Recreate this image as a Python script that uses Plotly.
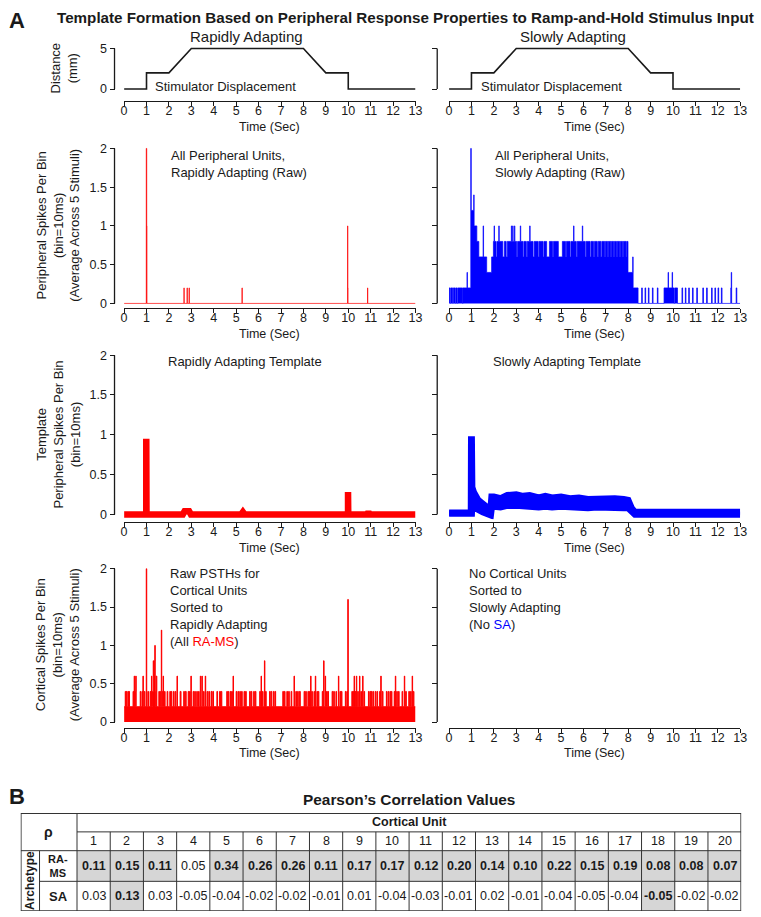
import plotly.graph_objects as go

W, H = 761, 917
FONT = "Liberation Sans, Arial, Helvetica, sans-serif"
INK = "#1a1a1a"
RED = "#ff0000"
BLUE = "#0000ff"
SHADE = "#d6d6d6"

# ------------------------------------------------------------------ data
TICKS_SEC = list(range(0, 14))

# stimulator displacement (mm) vs time (s)
STIM_T = [0, 1, 1, 2, 3, 8, 9, 10, 10, 13]
STIM_D = [0, 0, 2, 2, 5, 5, 2, 2, 0, 0]

# raw peripheral PSTHs as step functions: (bin start time s, spikes per bin), held until next entry
RA_RAW = [(0, 0), (0.99, 2.0), (1.01, 1.0), (1.02, 0), (2.67, 0.2), (2.68, 0), (2.81, 0.2), (2.82, 0),
          (2.90, 0.2), (2.91, 0), (5.26, 0.2), (5.27, 0), (9.97, 1.0), (9.98, 0.2), (9.99, 0),
          (10.86, 0.2), (10.87, 0)]

SA_RAW = [(0.00, 0.2), (0.05, 0), (0.08, 0.2), (0.16, 0), (0.19, 0.2), (0.27, 0), (0.30, 0.2), (0.36, 0),
          (0.39, 0.2), (0.60, 0), (0.62, 0.2), (0.80, 0.4), (0.82, 0.2), (0.97, 2.0), (0.99, 1.2),
          (1.10, 1.4), (1.12, 1.0), (1.24, 0.8), (1.33, 0.6), (1.52, 1.0), (1.54, 0.6), (1.68, 0.4),
          (1.90, 0.6), (1.98, 0.8), (2.01, 1.0), (2.03, 0.8), (2.10, 0.6), (2.14, 0.8), (2.22, 1.0),
          (2.24, 0.8), (2.40, 0.6), (2.47, 0.8), (2.55, 0.6), (2.60, 0.8), (2.78, 1.0), (2.80, 0.8),
          (2.84, 1.0), (2.86, 0.8), (2.92, 1.0), (2.94, 0.8), (3.02, 0.6), (3.06, 0.8), (3.18, 1.0),
          (3.20, 0.8), (3.30, 0.6), (3.34, 0.8), (3.45, 0.6), (3.49, 0.8), (3.60, 1.0), (3.62, 0.8),
          (3.75, 0.6), (3.80, 0.8), (3.98, 0.6), (4.02, 0.8), (4.20, 0.6), (4.24, 0.8), (4.36, 0.6),
          (4.48, 0.8), (4.62, 0.6), (4.66, 0.8), (4.88, 0.6), (5.06, 0.8), (5.20, 0.6), (5.24, 0.8),
          (5.40, 0.6), (5.44, 0.8), (5.56, 1.0), (5.58, 0.8), (5.68, 0.6), (5.72, 0.8), (5.95, 1.0),
          (5.97, 0.8), (6.08, 0.6), (6.12, 0.8), (6.30, 0.6), (6.34, 0.8), (6.45, 0.6), (6.49, 0.8),
          (6.62, 0.6), (6.66, 0.8), (6.78, 0.6), (6.82, 0.8), (6.95, 0.6), (6.98, 0.8), (7.08, 0.6),
          (7.11, 0.8), (7.22, 0.6), (7.25, 0.8), (7.35, 0.6), (7.38, 0.8), (7.48, 0.6), (7.51, 0.8),
          (7.62, 0.6), (7.65, 0.8), (7.75, 0.6), (7.78, 0.8), (7.90, 0.6), (7.93, 0.8), (7.99, 0.4),
          (8.20, 0.6), (8.22, 0.2), (8.44, 0), (8.60, 0.2), (8.63, 0), (8.75, 0.2), (8.78, 0),
          (8.90, 0.2), (8.93, 0), (9.08, 0.2), (9.11, 0), (9.30, 0.2), (9.33, 0), (9.60, 0.2),
          (9.78, 0.4), (9.80, 0.2), (9.96, 0.4), (9.98, 0.2), (10.05, 0), (10.08, 0.2), (10.20, 0),
          (10.40, 0.2), (10.43, 0), (10.55, 0.2), (10.58, 0), (10.70, 0.2), (10.73, 0), (10.87, 0.2),
          (10.90, 0), (11.06, 0.2), (11.09, 0), (11.33, 0.2), (11.36, 0), (11.50, 0.2), (11.53, 0),
          (11.72, 0.2), (11.75, 0), (11.87, 0.2), (11.90, 0), (12.01, 0.2), (12.04, 0), (12.16, 0.2),
          (12.19, 0), (12.58, 0.2), (12.60, 0.4), (12.62, 0), (12.82, 0.2), (12.85, 0)]

# templates
RA_TPL_T = [0, 0.99, 0.99, 1.00, 1.00, 2.62, 2.70, 2.90, 2.98, 5.22, 5.30, 5.38,
            9.99, 9.99, 10.00, 10.00, 10.84, 10.90, 10.96, 13]
RA_TPL_V = [0, 0, 0.95, 0.95, 0, 0, 0.04, 0.04, 0, 0, 0.03, 0,
            0, 0.28, 0.28, 0, 0, 0.03, 0, 0]

SA_TPL_T = [0, 0.90, 0.98, 0.99, 1.01, 1.03, 1.10, 1.30, 1.50, 1.70, 1.86, 1.90, 2.00, 2.30,
            2.60, 3.00, 3.30, 3.60, 4.00, 4.30, 4.60, 5.00, 5.40, 5.80, 6.20, 6.60, 7.00, 7.40,
            7.80, 8.00, 8.15, 8.30, 9.00, 9.60, 10.00, 10.20, 11.0, 12.0, 13.0]
SA_TPL_HI = [0.02, 0.02, 0.02, 0.94, 0.94, 0.34, 0.28, 0.18, 0.13, 0.09, 0.08, 0.22, 0.22, 0.20,
             0.24, 0.25, 0.23, 0.24, 0.21, 0.23, 0.21, 0.22, 0.20, 0.21, 0.19, 0.20, 0.19, 0.20,
             0.19, 0.18, 0.08, 0.03, 0.03, 0.03, 0.05, 0.03, 0.03, 0.03, 0.03]
SA_TPL_LO = [0.01, 0.01, 0.01, 0.01, 0.01, 0.14, 0.11, 0.06, 0.03, 0.00, -0.01, 0.08, 0.10, 0.09,
             0.11, 0.11, 0.10, 0.11, 0.09, 0.10, 0.09, 0.10, 0.09, 0.09, 0.08, 0.09, 0.08, 0.09,
             0.08, 0.08, 0.03, 0.00, 0.00, 0.00, 0.01, 0.00, 0.00, 0.00, 0.00]

# raw PSTH of cortical units sorted to RA (step function)
CORT_RA = [(0, 0.2), (0.05, 0.4), (0.07, 0.2), (0.10, 0.4), (0.13, 0.2), (0.17, 0.4), (0.20, 0.2),
           (0.22, 0.4), (0.24, 0.2), (0.40, 0.4), (0.43, 0.2), (0.45, 0.6), (0.47, 0.2), (0.50, 0.4),
           (0.52, 0.6), (0.54, 0.2), (0.72, 0.4), (0.75, 0.2), (0.80, 0.4), (0.84, 0.6), (0.86, 0.2),
           (0.90, 0.4), (0.93, 0.2), (0.99, 2.0), (1.01, 0.2), (1.06, 0.4), (1.09, 0.2), (1.16, 0.4),
           (1.19, 0.2), (1.22, 0.6), (1.24, 0.2), (1.27, 0.4), (1.30, 0.8), (1.32, 0.6), (1.35, 0.8),
           (1.37, 1.0), (1.39, 0.4), (1.41, 0.2), (1.43, 0.6), (1.46, 0.2), (1.55, 0.4), (1.58, 0.2),
           (1.62, 0.4), (1.66, 1.2), (1.68, 0.2), (1.71, 0.4), (1.74, 0.6), (1.76, 0.2), (1.80, 0.4),
           (1.83, 0.2), (1.92, 0.4), (1.95, 0.2), (2.04, 0.4), (2.07, 0.2), (2.10, 0.4), (2.13, 0.2),
           (2.20, 0.4), (2.23, 0.2), (2.28, 0.4), (2.31, 0.2), (2.36, 0.6), (2.38, 0.2), (2.50, 0.4),
           (2.54, 0.2), (2.66, 0.4), (2.69, 0.2), (2.73, 0.4), (2.77, 0.2), (2.86, 0.4), (2.89, 0.2),
           (2.92, 0.4), (2.95, 0.2), (2.98, 0.6), (3.00, 0.2), (3.08, 0.4), (3.11, 0.2), (3.15, 0.4),
           (3.18, 0.2), (3.24, 0.4), (3.27, 0.2), (3.32, 0.4), (3.35, 0.2), (3.40, 0.6), (3.42, 0.2),
           (3.47, 0.6), (3.49, 0.2), (3.54, 0.4), (3.57, 0.2), (3.62, 0.6), (3.64, 0.2), (3.70, 0.4),
           (3.73, 0.2), (3.78, 0.4), (3.81, 0.2), (3.88, 0.4), (3.92, 0.2), (3.96, 0.4), (3.99, 0.2),
           (4.14, 0.4), (4.17, 0.2), (4.26, 0.4), (4.30, 0.2), (4.33, 0.4), (4.36, 0.2), (4.58, 0.4),
           (4.61, 0.2), (4.65, 0.4), (4.68, 0.2), (4.74, 0.4), (4.77, 0.2), (4.80, 0.4), (4.83, 0.2),
           (4.86, 0.6), (4.88, 0.2), (5.00, 0.4), (5.03, 0.2), (5.08, 0.4), (5.11, 0.2), (5.16, 0.4),
           (5.19, 0.2), (5.24, 0.4), (5.27, 0.2), (5.35, 0.4), (5.38, 0.2), (5.42, 0.4), (5.45, 0.2),
           (5.60, 0.4), (5.63, 0.2), (5.67, 0.4), (5.70, 0.2), (5.78, 0.4), (5.81, 0.2), (5.85, 0.4),
           (5.88, 0.2), (6.05, 0.4), (6.08, 0.2), (6.11, 0.6), (6.13, 0.2), (6.17, 0.4), (6.20, 0.2),
           (6.26, 0.8), (6.28, 0.2), (6.31, 0.4), (6.34, 0.2), (6.49, 0.4), (6.52, 0.2), (6.56, 0.4),
           (6.59, 0.2), (6.66, 0.4), (6.69, 0.2), (6.73, 0.4), (6.76, 0.2), (7.08, 0.4), (7.11, 0.2),
           (7.15, 0.4), (7.18, 0.2), (7.26, 0.4), (7.29, 0.2), (7.34, 0.4), (7.37, 0.2), (7.45, 0.4),
           (7.48, 0.2), (7.58, 0.6), (7.60, 0.2), (7.66, 0.4), (7.69, 0.2), (7.74, 0.4), (7.77, 0.2),
           (7.82, 0.4), (7.86, 0.2), (8.03, 0.4), (8.06, 0.2), (8.10, 0.4), (8.13, 0.2), (8.20, 0.4),
           (8.23, 0.2), (8.27, 0.4), (8.30, 0.2), (8.32, 0.6), (8.34, 0.2), (8.37, 0.4), (8.40, 0.2),
           (8.47, 0.4), (8.50, 0.2), (8.53, 0.6), (8.55, 0.2), (8.60, 0.4), (8.63, 0.2), (8.66, 0.4),
           (8.69, 0.2), (8.84, 0.4), (8.87, 0.2), (8.90, 0.8), (8.92, 0.2), (8.97, 0.6), (8.99, 0.2),
           (9.03, 0.4), (9.06, 0.2), (9.09, 0.4), (9.12, 0.2), (9.28, 0.4), (9.31, 0.2), (9.35, 0.4),
           (9.38, 0.2), (9.45, 0.4), (9.48, 0.2), (9.56, 0.6), (9.58, 0.2), (9.63, 0.4), (9.66, 0.2),
           (9.69, 0.4), (9.72, 0.2), (9.87, 0.4), (9.90, 0.2), (9.94, 0.4), (9.97, 0.2), (9.98, 1.6),
           (10.00, 0.2), (10.16, 0.4), (10.19, 0.2), (10.22, 0.4), (10.25, 0.2), (10.26, 0.6),
           (10.28, 0.2), (10.31, 0.4), (10.34, 0.2), (10.36, 0.6), (10.38, 0.2), (10.42, 0.4),
           (10.45, 0.2), (10.50, 0.6), (10.52, 0.2), (10.56, 0.4), (10.59, 0.2), (10.64, 0.6),
           (10.66, 0.2), (10.70, 0.4), (10.73, 0.2), (10.90, 0.4), (10.93, 0.2), (10.97, 0.4),
           (11.00, 0.2), (11.03, 0.4), (11.06, 0.2), (11.10, 0.4), (11.13, 0.2), (11.20, 0.4),
           (11.23, 0.2), (11.28, 0.4), (11.31, 0.2), (11.40, 0.4), (11.43, 0.2), (11.45, 0.6),
           (11.47, 0.2), (11.52, 0.4), (11.55, 0.2), (11.70, 0.4), (11.73, 0.2), (11.78, 0.4),
           (11.81, 0.2), (11.86, 0.4), (11.89, 0.2), (11.92, 0.4), (11.95, 0.2), (12.05, 0.4),
           (12.08, 0.2), (12.10, 0.6), (12.12, 0.2), (12.16, 0.4), (12.19, 0.2), (12.24, 0.4),
           (12.27, 0.2), (12.40, 0.4), (12.43, 0.2), (12.50, 0.6), (12.52, 0.2), (12.56, 0.4),
           (12.59, 0.2), (12.70, 0.4), (12.73, 0.2), (12.78, 0.4), (12.81, 0.2), (12.85, 0.6),
           (12.87, 0.2), (12.90, 0.4), (12.93, 0.2)]

# Pearson's correlation table
UNITS = list(range(1, 21))
RHO_RA_MS = [0.11, 0.15, 0.11, 0.05, 0.34, 0.26, 0.26, 0.11, 0.17, 0.17,
             0.12, 0.20, 0.14, 0.10, 0.22, 0.15, 0.19, 0.08, 0.08, 0.07]
RHO_SA = [0.03, 0.13, 0.03, -0.05, -0.04, -0.02, -0.02, -0.01, 0.01, -0.04,
          -0.03, -0.01, 0.02, -0.01, -0.04, -0.05, -0.04, -0.05, -0.02, -0.02]
SIG_RA_MS = [1, 1, 1, 0, 1, 1, 1, 1, 1, 1, 1, 1, 1, 1, 1, 1, 1, 1, 1, 1]
SIG_SA = [0, 1, 0, 0, 0, 0, 0, 0, 0, 0, 0, 0, 0, 0, 0, 0, 0, 1, 0, 0]


# ------------------------------------------------------------------ helpers
def X(px):
    return px / W


def Y(py):
    return 1 - py / H


def step_xy(pairs, tend=13.0):
    ts = [p[0] for p in pairs] + [tend]
    vs = [p[1] for p in pairs] + [pairs[-1][1]]
    return ts, vs


fig = go.Figure()
shapes, annotations = [], []
layout = dict(width=W, height=H, margin=dict(l=0, r=0, t=0, b=0),
              paper_bgcolor="white", plot_bgcolor="rgba(0,0,0,0)", showlegend=False,
              font=dict(family=FONT, color=INK, size=13))

COL_GEOM = {1: dict(x0=122.7, x1=418.0, yline=113.0),
            2: dict(x0=452.0, x1=747.0, yline=440.0)}
ROW_GEOM = {
    1: dict(p0=85.0, ptop=44.0, vtop=5, rng=(-0.25, 5.25), xline=97.0, ticks=[0, 5]),
    2: dict(p0=301.7, ptop=145.0, vtop=2, rng=(-0.03, 2.02), xline=306.5, ticks=[0, 0.5, 1, 1.5, 2]),
    3: dict(p0=515.0, ptop=354.0, vtop=2, rng=(-0.06, 2.02), xline=523.0, ticks=[0, 0.5, 1, 1.5, 2]),
    4: dict(p0=725.0, ptop=570.0, vtop=2, rng=(-0.03, 2.02), xline=730.5, ticks=[0, 0.5, 1, 1.5, 2]),
}
TICKFONT = dict(family=FONT, size=12.5, color=INK)


def axes_ids(p):
    s = "" if p == 1 else str(p)
    return "x" + s, "y" + s, "xaxis" + s, "yaxis" + s


for r in range(1, 5):
    for c in (1, 2):
        p = (r - 1) * 2 + c
        xid, yid, xkey, ykey = axes_ids(p)
        cg, rg = COL_GEOM[c], ROW_GEOM[r]
        k = (rg["p0"] - rg["ptop"]) / rg["vtop"]
        bottom = rg["p0"] - rg["rng"][0] * k
        top = rg["ptop"] - (rg["rng"][1] - rg["vtop"]) * k
        layout[xkey] = dict(domain=[X(cg["x0"]), X(cg["x1"])], range=[0, 13], anchor="free",
                            position=Y(rg["xline"]), showline=True, linecolor=INK, linewidth=1.3,
                            ticks="outside", ticklen=4, tickwidth=1.3, tickcolor=INK,
                            ticklabelstandoff=-6,
                            tickvals=TICKS_SEC, tickfont=TICKFONT, showgrid=False, zeroline=False)
        layout[ykey] = dict(domain=[Y(bottom), Y(top)], range=list(rg["rng"]), anchor="free",
                            position=X(cg["yline"]), showline=False, ticks="outside", ticklen=5,
                            tickwidth=1.3, tickcolor=INK, tickvals=rg["ticks"],
                            showticklabels=(c == 1), tickfont=TICKFONT, showgrid=False,
                            zeroline=False)
        shapes.append(dict(type="line", xref="paper", yref=yid, x0=X(cg["yline"]),
                           x1=X(cg["yline"]), y0=0, y1=rg["vtop"],
                           line=dict(color=INK, width=1.3)))
        annotations.append(dict(text="Time (Sec)", xref="paper", yref="paper",
                                x=X((cg["x0"] + cg["x1"]) / 2), y=Y(rg["xline"] + 26),
                                xanchor="center", yanchor="middle", showarrow=False,
                                font=dict(family=FONT, size=12.5, color=INK)))
        # empty trace so every subplot exists
        fig.add_trace(go.Scatter(x=[], y=[], xaxis=xid, yaxis=yid, hoverinfo="skip"))

        if r == 1:
            fig.add_trace(go.Scatter(x=STIM_T, y=STIM_D, mode="lines", xaxis=xid, yaxis=yid,
                                     line=dict(color=INK, width=1.6)))
        elif r == 2:
            data, col = (RA_RAW, RED) if c == 1 else (SA_RAW, BLUE)
            tx, vy = step_xy(data)
            fig.add_trace(go.Scatter(x=tx, y=vy, mode="lines", line_shape="hv", fill="tozeroy",
                                     fillcolor=col, xaxis=xid, yaxis=yid,
                                     line=dict(color=col, width=0.7)))
        elif r == 3:
            if c == 1:
                fig.add_trace(go.Scatter(x=RA_TPL_T, y=RA_TPL_V, mode="lines", xaxis=xid,
                                         yaxis=yid, line=dict(color=RED, width=6.5)))
            else:
                fig.add_trace(go.Scatter(x=SA_TPL_T, y=SA_TPL_LO, mode="lines", xaxis=xid,
                                         yaxis=yid, line=dict(color=BLUE, width=6.5)))
                fig.add_trace(go.Scatter(x=SA_TPL_T, y=SA_TPL_HI, mode="lines", xaxis=xid,
                                         yaxis=yid, fill="tonexty", fillcolor=BLUE,
                                         line=dict(color=BLUE, width=6.5)))
        elif r == 4 and c == 1:
            tx, vy = step_xy(CORT_RA)
            fig.add_trace(go.Scatter(x=tx, y=vy, mode="lines", line_shape="hv", fill="tozeroy",
                                     fillcolor=RED, xaxis=xid, yaxis=yid,
                                     line=dict(color=RED, width=1.0)))


def note(text, x, y, size=13, xa="center", ya="middle", bold=False, angle=0, align="center",
         xref="paper", yref="paper"):
    if bold:
        text = "<b>" + text + "</b>"
    if xref == "paper":
        x = X(x)
    if yref == "paper":
        y = Y(y)
    annotations.append(dict(text=text, x=x, y=y, xref=xref, yref=yref, xanchor=xa, yanchor=ya,
                            showarrow=False, textangle=angle, align=align,
                            font=dict(family=FONT, size=size, color=INK)))


# ------------------------------------------------------------------ panel texts
note("A", 4, 16, size=22, xa="left", bold=True)
note("Template Formation Based on Peripheral Response Properties to Ramp-and-Hold Stimulus Input",
     408, 12.5, size=15.2, bold=True)
note("Rapidly Adapting", 247, 32, size=15)
note("Slowly Adapting", 578, 32, size=15)
note("Stimulator Displacement", 152, 82, size=13, xa="left")
note("Stimulator Displacement", 482, 82, size=13, xa="left")
note("Distance<br>(mm)", 62, 64, size=13, angle=-90)
note("Peripheral Spikes Per Bin<br>(bin=10ms)<br>(Average Across 5 Stimuli)", 56, 223, angle=-90)
note("Template<br>Peripheral Spikes Per Bin<br>(bin=10ms)", 56, 434, angle=-90)
note("Cortical Spikes Per Bin<br>(bin=10ms)<br>(Average Across 5 Stimuli)", 56, 647, angle=-90)
note("All Peripheral Units,<br>Rapidly Adapting (Raw)", 168, 143, xa="left", ya="top", align="left")
note("All Peripheral Units,<br>Slowly Adapting (Raw)", 497, 143, xa="left", ya="top", align="left")
note("Rapidly Adapting Template", 245, 360)
note("Slowly Adapting Template", 572, 360)
note("Raw PSTHs for<br>Cortical Units<br>Sorted to<br>Rapidly Adapting<br>(All <span style='color:%s'>RA-MS</span>)" % RED,
     167, 565, xa="left", ya="top", align="left")
note("No Cortical Units<br>Sorted to<br>Slowly Adapting<br>(No <span style='color:%s'>SA</span>)" % BLUE,
     470, 565, xa="left", ya="top", align="left")

# ------------------------------------------------------------------ table (panel B)
note("B", 4, 800, size=22, xa="left", bold=True)
note("Pearson’s Correlation Values", 411, 803, size=15.4, bold=True)

TX0, TX_ARCH, TX_LAB = -1.694, -1.129, 0.0
ROW_EDGES = [0, 19, 38, 69, 99]
layout["xaxis9"] = dict(domain=[X(18), X(748)], range=[TX0, 20], visible=False, anchor="y9")
layout["yaxis9"] = dict(domain=[Y(817 + ROW_EDGES[-1]), Y(817)], range=[ROW_EDGES[-1], 0],
                        visible=False, anchor="x9")
fig.add_trace(go.Scatter(x=[], y=[], xaxis="x9", yaxis="y9", hoverinfo="skip"))

for i, (sr, ss) in enumerate(zip(SIG_RA_MS, SIG_SA)):
    for sig, (ya0, ya1) in ((sr, (ROW_EDGES[2], ROW_EDGES[3])), (ss, (ROW_EDGES[3], ROW_EDGES[4]))):
        if sig:
            shapes.append(dict(type="rect", xref="x9", yref="y9", x0=i, x1=i + 1, y0=ya0, y1=ya1,
                               fillcolor=SHADE, line=dict(width=0)))


def tline(x0, y0, x1, y1, w=1.0):
    shapes.append(dict(type="line", xref="x9", yref="y9", x0=x0, y0=y0, x1=x1, y1=y1,
                       line=dict(color="#333333", width=w)))


tline(TX_LAB, ROW_EDGES[1], 20, ROW_EDGES[1])
tline(TX0, ROW_EDGES[2], 20, ROW_EDGES[2])
tline(TX_ARCH, ROW_EDGES[3], 20, ROW_EDGES[3])
tline(TX_ARCH, ROW_EDGES[2], TX_ARCH, ROW_EDGES[4])
tline(TX_LAB, ROW_EDGES[0], TX_LAB, ROW_EDGES[4])
for kcol in range(1, 20):
    tline(kcol, ROW_EDGES[1], kcol, ROW_EDGES[4])
# outer border
tline(TX0, ROW_EDGES[0], 20, ROW_EDGES[0], 1.6)
tline(TX0, ROW_EDGES[4], 20, ROW_EDGES[4], 1.6)
tline(TX0, ROW_EDGES[0], TX0, ROW_EDGES[4], 1.6)
tline(20, ROW_EDGES[0], 20, ROW_EDGES[4], 1.6)

note("ρ", (TX0 + TX_LAB) / 2, ROW_EDGES[2] / 2, size=14, bold=True, xref="x9", yref="y9")
note("Cortical Unit", 10, (ROW_EDGES[0] + ROW_EDGES[1]) / 2, size=12.5, bold=True, xref="x9", yref="y9")
note("Archetype", (TX0 + TX_ARCH) / 2, (ROW_EDGES[2] + ROW_EDGES[4]) / 2, size=12, bold=True,
     angle=-90, xref="x9", yref="y9")
note("RA-<br>MS", (TX_ARCH + TX_LAB) / 2, (ROW_EDGES[2] + ROW_EDGES[3]) / 2, size=11, bold=True,
     xref="x9", yref="y9")
note("SA", (TX_ARCH + TX_LAB) / 2, (ROW_EDGES[3] + ROW_EDGES[4]) / 2, size=13, bold=True,
     xref="x9", yref="y9")
for i, u in enumerate(UNITS):
    note(str(u), i + 0.5, (ROW_EDGES[1] + ROW_EDGES[2]) / 2, size=12.5, xref="x9", yref="y9")
    note("%.2f" % RHO_RA_MS[i], i + 0.5, (ROW_EDGES[2] + ROW_EDGES[3]) / 2, size=12.5,
         bold=bool(SIG_RA_MS[i]), xref="x9", yref="y9")
    note("%.2f" % RHO_SA[i], i + 0.5, (ROW_EDGES[3] + ROW_EDGES[4]) / 2, size=12.5,
         bold=bool(SIG_SA[i]), xref="x9", yref="y9")

layout["shapes"] = shapes
layout["annotations"] = annotations
fig.update_layout(**layout)
fig.write_html("out.html", config={"displayModeBar": False},
               post_script="document.body.style.margin='0px';"
                           "document.body.style.overflow='hidden';")
